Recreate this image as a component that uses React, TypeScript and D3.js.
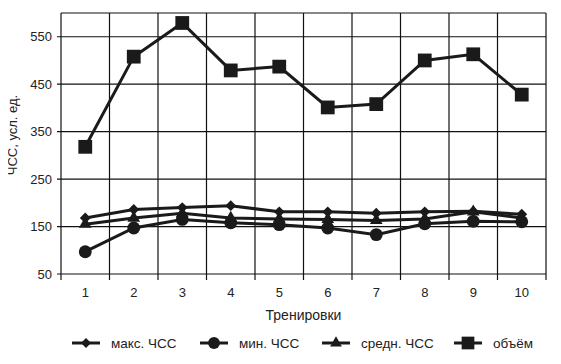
import React, { useEffect, useRef } from 'react';
import * as d3 from 'd3';

const trainings = ['1', '2', '3', '4', '5', '6', '7', '8', '9', '10'];
const maxHR = [168, 186, 190, 194, 181, 181, 178, 181, 182, 176];
const minHR = [97, 147, 165, 158, 154, 147, 133, 156, 161, 160];
const avgHR = [155, 168, 178, 168, 166, 165, 163, 166, 181, 168];
const volume = [318, 508, 579, 479, 487, 401, 408, 500, 513, 428];
const yTicks = [50, 150, 250, 350, 450, 550];

interface Series {
  name: string;
  values: number[];
  symbol: d3.SymbolType;
  size: number;
}

const seriesList: Series[] = [
  { name: 'макс. ЧСС', values: maxHR, symbol: d3.symbolDiamond2, size: 75 },
  { name: 'мин. ЧСС', values: minHR, symbol: d3.symbolCircle, size: 130 },
  { name: 'средн. ЧСС', values: avgHR, symbol: d3.symbolTriangle, size: 70 },
  { name: 'объём', values: volume, symbol: d3.symbolSquare, size: 190 },
];

const Chart: React.FC = () => {
  const svgRef = useRef<SVGSVGElement>(null);

  useEffect(() => {
    if (!svgRef.current) return;
    const width = 561;
    const height = 364;
    const margin = { top: 13, right: 15, bottom: 90, left: 61 };
    const font = 'Liberation Sans, Arial, sans-serif';

    const svg = d3.select(svgRef.current)
      .attr('width', width)
      .attr('height', height);
    svg.selectAll('*').remove();

    svg.append('rect').attr('width', width).attr('height', height).style('fill', 'white');

    const x = d3.scaleBand<string>()
      .domain(trainings)
      .range([margin.left, width - margin.right]);
    const y = d3.scaleLinear()
      .domain([50, 600])
      .range([height - margin.bottom, margin.top]);

    const g = svg.append('g');

    // horizontal grid + y ticks
    g.selectAll('.hgrid')
      .data(yTicks)
      .enter().append('line')
      .attr('x1', margin.left - 4)
      .attr('x2', width - margin.right)
      .attr('y1', d => y(d))
      .attr('y2', d => y(d))
      .style('stroke', '#111')
      .style('stroke-width', 1.2);

    g.selectAll('.ylab')
      .data(yTicks)
      .enter().append('text')
      .attr('x', margin.left - 9)
      .attr('y', d => y(d))
      .attr('dy', '0.35em')
      .style('text-anchor', 'end')
      .style('font-family', font)
      .style('font-size', '13px')
      .style('fill', '#222')
      .text(d => d);

    // vertical grid lines at band boundaries
    const bounds = trainings.map(t => x(t)!).concat([x(trainings[trainings.length - 1])! + x.bandwidth()]);
    g.selectAll('.vgrid')
      .data(bounds)
      .enter().append('line')
      .attr('x1', d => d)
      .attr('x2', d => d)
      .attr('y1', y(600))
      .attr('y2', y(50) + 6)
      .style('stroke', '#111')
      .style('stroke-width', 1.2);

    // top border
    g.append('line')
      .attr('x1', margin.left)
      .attr('x2', width - margin.right)
      .attr('y1', y(600))
      .attr('y2', y(600))
      .style('stroke', '#111')
      .style('stroke-width', 1.2);

    g.selectAll('.xlab')
      .data(trainings)
      .enter().append('text')
      .attr('x', d => x(d)! + x.bandwidth() / 2)
      .attr('y', y(50) + 23)
      .style('text-anchor', 'middle')
      .style('font-family', font)
      .style('font-size', '13px')
      .style('fill', '#222')
      .text(d => d);

    svg.append('text')
      .attr('x', (margin.left + width - margin.right) / 2)
      .attr('y', 320)
      .style('text-anchor', 'middle')
      .style('font-family', font)
      .style('font-size', '14px')
      .style('fill', '#222')
      .text('Тренировки');

    svg.append('text')
      .attr('transform', 'translate(17,135) rotate(-90)')
      .style('text-anchor', 'middle')
      .style('font-family', font)
      .style('font-size', '13px')
      .style('fill', '#222')
      .text('ЧСС, усл. ед.');

    const line = d3.line<number>()
      .x((_, i) => x(trainings[i])! + x.bandwidth() / 2)
      .y(d => y(d));

    seriesList.forEach(s => {
      g.append('path')
        .datum(s.values)
        .attr('d', line)
        .style('fill', 'none')
        .style('stroke', '#1a1a1a')
        .style('stroke-width', 3);

      g.selectAll(null)
        .data(s.values)
        .enter().append('path')
        .attr('d', d3.symbol().type(s.symbol).size(s.size)())
        .attr('transform', (d, i) => `translate(${x(trainings[i])! + x.bandwidth() / 2},${y(d)})`)
        .style('fill', '#1a1a1a');
    });

    // legend
    const legendX = [86, 214, 336, 468];
    const legend = svg.append('g');
    seriesList.forEach((s, i) => {
      const cx = legendX[i];
      const cy = 343;
      legend.append('line')
        .attr('x1', cx - 14)
        .attr('x2', cx + 14)
        .attr('y1', cy)
        .attr('y2', cy)
        .style('stroke', '#1a1a1a')
        .style('stroke-width', 3);
      legend.append('path')
        .attr('d', d3.symbol().type(s.symbol).size(s.size * 0.85)())
        .attr('transform', `translate(${cx},${cy})`)
        .style('fill', '#1a1a1a');
      legend.append('text')
        .attr('x', cx + 25)
        .attr('y', cy)
        .attr('dy', '0.35em')
        .style('font-family', font)
        .style('font-size', '13.5px')
        .style('fill', '#222')
        .text(s.name);
    });
  }, []);

  return <svg ref={svgRef} style={{ display: 'block' }}></svg>;
};

const App: React.FC = () => (
  <div style={{ margin: -8 }}>
    <Chart />
  </div>
);

export default App;
